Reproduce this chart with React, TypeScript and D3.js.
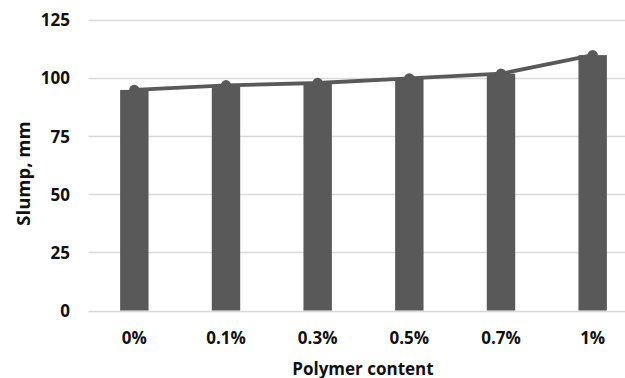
import React from "react";
import * as d3 from "d3";

// Slump of the mix for each polymer dosage
const categories = ["0%", "0.1%", "0.3%", "0.5%", "0.7%", "1%"];
const slumpBars = [95, 97, 98, 100, 102, 110];
const slumpLine = [95, 97, 98, 100, 102, 110];
const yTicks = [0, 25, 50, 75, 100, 125];

const W = 625;
const H = 378;
const FONT = "'Open Sans', 'DejaVu Sans', sans-serif";
const GRAY = "#595959";

export default function App() {
  const x = d3
    .scaleBand<string>()
    .domain(categories)
    .range([88.5, 638.5])
    .paddingInner(0.69)
    .paddingOuter(0.345);
  const y = d3.scaleLinear().domain([0, 125]).range([310.5, 20.3]);

  const cx = (c: string) => (x(c) as number) + x.bandwidth() / 2;

  const line = d3
    .line<number>()
    .x((_, i) => cx(categories[i]))
    .y((v) => y(v));

  return (
    <svg
      width={W}
      height={H}
      style={{ position: "absolute", left: 0, top: 0, background: "#fff" }}
      fontFamily={FONT}
    >
      <rect x={0} y={0} width={W} height={H} fill="#fff" />
      {/* horizontal gridlines */}
      {yTicks.map((t) => (
        <line
          key={t}
          x1={88.5}
          x2={W}
          y1={Math.round(y(t)) + 0.5}
          y2={Math.round(y(t)) + 0.5}
          stroke="#d9d9d9"
          strokeWidth={1.3}
        />
      ))}
      {/* y tick labels */}
      {yTicks.map((t) => (
        <text
          key={t}
          x={70}
          y={y(t)}
          dy="0.36em"
          textAnchor="end"
          fontSize={17}
          fontWeight="bold"
          fill="#111"
        >
          {t}
        </text>
      ))}
      {/* bars */}
      {categories.map((c, i) => (
        <rect
          key={c}
          x={x(c)}
          y={y(slumpBars[i])}
          width={x.bandwidth()}
          height={y(0) - y(slumpBars[i])}
          fill={GRAY}
        />
      ))}
      {/* trend line with markers */}
      <path
        d={line(slumpLine) || ""}
        fill="none"
        stroke={GRAY}
        strokeWidth={3.8}
        strokeLinejoin="round"
        strokeLinecap="round"
      />
      {slumpLine.map((v, i) => (
        <circle key={i} cx={cx(categories[i])} cy={y(v)} r={5.2} fill={GRAY} />
      ))}
      {/* x tick labels */}
      {categories.map((c) => (
        <text
          key={c}
          x={cx(c)}
          y={344}
          textAnchor="middle"
          fontSize={17}
          fontWeight="bold"
          fill="#111"
        >
          {c}
        </text>
      ))}
      {/* axis titles */}
      <text
        x={363}
        y={374.5}
        textAnchor="middle"
        fontSize={17}
        fontWeight="bold"
        fill="#111"
      >
        Polymer content
      </text>
      <text
        transform={`translate(29.5,${y(59)}) rotate(-90)`}
        textAnchor="middle"
        fontSize={18.5}
        fontWeight="bold"
        fill="#111"
      >
        Slump, mm
      </text>
    </svg>
  );
}
